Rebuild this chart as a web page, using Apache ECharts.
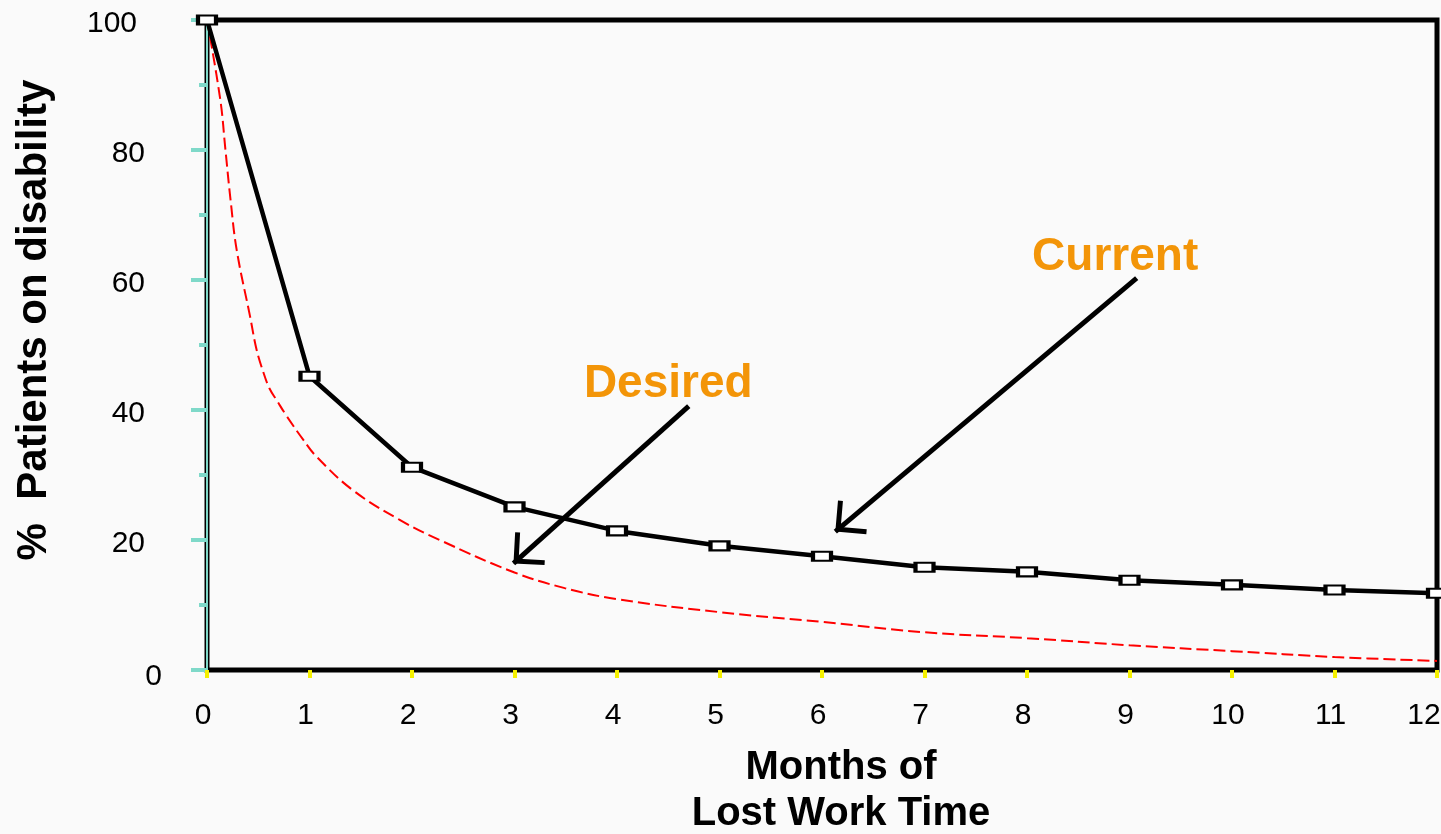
<!DOCTYPE html>
<html>
<head>
    <meta charset="UTF-8">
    <title>Months of Lost Work Time</title>
    <script src="https://cdn.jsdelivr.net/npm/echarts@6/dist/echarts.min.js"></script>
    <style>
        html, body { margin: 0; padding: 0; background: #fafafa; }
    </style>
</head>
<body>
<div id="chart" style="width: 1441px; height: 834px;"></div>

<script>
    // current curve: one value per month
    const months = [0, 1, 2, 3, 4, 5, 6, 7, 8, 9, 10, 11, 12];
    const currentValues = [100, 45.2, 31.2, 25.1, 21.4, 19.1, 17.5, 15.8, 15.1, 13.8, 13.1, 12.3, 11.8];

    // desired curve
    const desiredMonths = [0, 0.13, 0.18, 0.23, 0.29, 0.42, 0.485, 0.55, 0.61, 0.68, 0.78, 0.94, 1.07, 1.42, 1.88, 2.27, 3, 3.49, 4, 5, 6, 7, 8, 9, 10, 11, 12];
    const desiredValues = [100, 87.7, 80, 72.3, 64.6, 54.4, 49.2, 45.8, 43.3, 41.5, 39, 35.4, 32.8, 27.7, 23.1, 20, 15, 12.6, 10.9, 8.9, 7.4, 5.8, 4.9, 3.8, 2.9, 2.0, 1.4];

    const yTicks = [0, 20, 40, 60, 80, 100];

    // annotations: [from, to] in data units
    const currentArrow = [[9.07, 60.3], [6.13, 21.3]];
    const desiredArrow = [[4.70, 40.6], [2.99, 16.4]];
    const currentLabelAt = [8.86, 63.5];
    const desiredLabelAt = [4.50, 43.9];

    const font = "'Liberation Sans', Arial, sans-serif";
    const orange = '#f39508';
    // open arrow head, tip in the middle of the box so it lands on the end point
    const chevron = 'path://M0,0 L22,22 L18.5,25.5 L0,7.07 L-18.5,25.5 L-22,22 Z M-0.1,-25.5 L0.1,-25.5 L0,-25.4 Z';

    const chart = echarts.init(document.getElementById('chart'));

    const option = {
        backgroundColor: '#fafafa',
        animation: false,
        grid: {
            left: 207,
            right: 4,
            top: 20,
            bottom: 164,
            outerBoundsMode: 'none',
            containLabel: false,
            show: true,
            backgroundColor: 'transparent',
            borderColor: '#000',
            borderWidth: 5
        },
        xAxis: {
            type: 'value',
            min: 0,
            max: 12,
            interval: 1,
            offset: 4,
            name: 'Months of\nLost Work Time',
            nameLocation: 'middle',
            nameGap: 71,
            nameTextStyle: {
                fontFamily: font,
                fontWeight: 'bold',
                fontSize: 40,
                lineHeight: 46,
                color: '#000',
                padding: [0, 0, 0, 38]
            },
            axisLine: { show: false },
            axisTick: { show: true, length: 8, lineStyle: { color: '#f5f000', width: 4 } },
            splitLine: { show: false },
            axisLabel: {
                margin: 27,
                formatter: function (v) {
                    return v === 12 ? '{e|12}' : '{n|' + v + '}';
                },
                rich: {
                    n: { fontFamily: font, fontSize: 30, color: '#000', padding: [0, 8, 0, 0] },
                    e: { fontFamily: font, fontSize: 30, color: '#000', padding: [0, 26, 0, 0] }
                }
            }
        },
        yAxis: {
            type: 'value',
            min: 0,
            max: 100,
            interval: 20,
            offset: 3,
            name: '%  Patients on disability',
            nameLocation: 'middle',
            nameRotate: 90,
            nameGap: 149,
            nameTextStyle: {
                fontFamily: font,
                fontWeight: 'bold',
                fontSize: 42,
                color: '#000',
                padding: [0, 0, 0, 50]
            },
            axisLine: { show: true, lineStyle: { color: '#7fd9c9', width: 2 } },
            axisTick: { show: true, length: 16, lineStyle: { color: '#7fd9c9', width: 4 } },
            minorTick: { show: true, splitNumber: 2, length: 8, lineStyle: { color: '#7fd9c9', width: 4 } },
            splitLine: { show: false },
            axisLabel: {
                margin: 42,
                customValues: yTicks,
                formatter: function (v) {
                    if (v === 0) return '{z|0}';
                    if (v === 100) return '{h|100}';
                    return '{n|' + v + '}';
                },
                rich: {
                    z: { fontFamily: font, fontSize: 30, color: '#000', padding: [14, 0, 0, 0] },
                    h: { fontFamily: font, fontSize: 30, color: '#000', padding: [7, 25, 0, 0] },
                    n: { fontFamily: font, fontSize: 30, color: '#000', padding: [8, 17, 0, 0] }
                }
            }
        },
        series: [
            {
                name: 'Desired',
                type: 'line',
                data: desiredMonths.map((m, i) => [m, desiredValues[i]]),
                smooth: 0.4,
                showSymbol: false,
                lineStyle: { color: '#ff0000', width: 2, type: [12, 5] },
                z: 2
            },
            {
                name: 'Current',
                type: 'line',
                data: months.map((m, i) => [m, currentValues[i]]),
                symbol: 'rect',
                symbolSize: [18, 9],
                itemStyle: { color: '#fff', borderColor: '#000', borderWidth: 3 },
                lineStyle: { color: '#000', width: 4.5 },
                clip: false,
                z: 3,
                markLine: {
                    silent: true,
                    animation: false,
                    symbol: ['none', chevron],
                    symbolSize: [44, 51],
                    label: { show: false },
                    lineStyle: { color: '#000', width: 5, type: 'solid' },
                    data: [
                        [{ coord: currentArrow[0] }, { coord: currentArrow[1] }],
                        [{ coord: desiredArrow[0] }, { coord: desiredArrow[1] }]
                    ]
                },
                markPoint: {
                    silent: true,
                    symbol: 'circle',
                    symbolSize: 0,
                    label: {
                        show: true,
                        position: 'inside',
                        fontFamily: font,
                        fontWeight: 'bold',
                        fontSize: 46,
                        color: orange
                    },
                    data: [
                        { coord: currentLabelAt, label: { formatter: 'Current' } },
                        { coord: desiredLabelAt, label: { formatter: 'Desired' } }
                    ]
                }
            }
        ]
    };

    chart.setOption(option);
</script>
</body>
</html>
